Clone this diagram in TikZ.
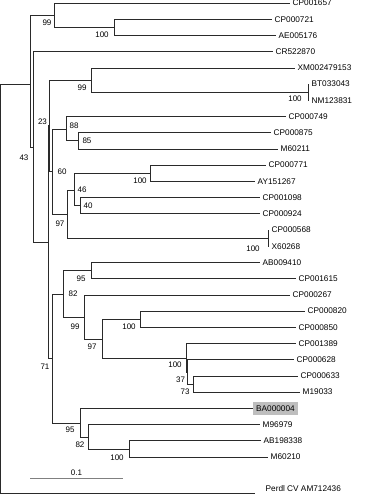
\documentclass[tikz,border=0pt]{standalone}
\usepackage{fontspec}
\setmainfont{Liberation Sans}
\usepackage{tikz}
\usetikzlibrary{calc}
\definecolor{branch}{HTML}{2A2A2A}
\definecolor{hilite}{HTML}{BEBEBE}
\definecolor{barc}{HTML}{808080}
\tikzset{
  br/.style={draw=branch, line width=0.7pt},
  leaf/.style={anchor=west, inner sep=0pt, xshift=2.5pt, font=\fontsize{8.25}{9}\selectfont},
  hl/.style={anchor=west, fill=hilite, inner xsep=3pt, inner ysep=0pt, minimum height=12.5pt, font=\fontsize{8.25}{9}\selectfont},
  boot/.style={inner sep=0pt, font=\fontsize{8}{9}\selectfont},
  scalebar/.style={draw=barc, line width=0.8pt},
}
\begin{document}
\begin{tikzpicture}[x=1pt,y=-1pt]
  \useasboundingbox (0,0) rectangle (366,497);

  \coordinate (root) at (0.6,288);
  \coordinate (nA) at (30,84);
  \coordinate (n99a) at (54,15);
  \coordinate (n100a) at (114,27.3);
  \coordinate (n43) at (33,147);
  \coordinate (nB) at (48,242);
  \coordinate (n23) at (49.5,125);
  \coordinate (n99b) at (91,80);
  \coordinate (n100b) at (308,92.2);
  \coordinate (n60) at (52,171);
  \coordinate (n88) at (66,129);
  \coordinate (n85) at (78,140.8);
  \coordinate (n97a) at (67,214.5);
  \coordinate (n46) at (74,190);
  \coordinate (n100c) at (150,173.2);
  \coordinate (n40) at (80,205.7);
  \coordinate (n100d) at (268,238.1);
  \coordinate (n71) at (52,358.5);
  \coordinate (n82a) at (63,294);
  \coordinate (n95a) at (91,270.5);
  \coordinate (n99c) at (84,317);
  \coordinate (n97b) at (102,339);
  \coordinate (n100e) at (140,319.2);
  \coordinate (n100f) at (186,358);
  \coordinate (n37) at (187.5,372.7);
  \coordinate (n73) at (193,384);
  \coordinate (n95b) at (80,423);
  \coordinate (n82b) at (88,437);
  \coordinate (n100g) at (129,449);

  \coordinate (tCP001657) at (290,3);
  \coordinate (tCP000721) at (272,19.2);
  \coordinate (tAE005176) at (276,35.4);
  \coordinate (tCR522870) at (273,51.6);
  \coordinate (tXM002479153) at (295,67.9);
  \coordinate (tBT033043) at (309,84.1);
  \coordinate (tNM123831) at (309,100.3);
  \coordinate (tCP000749) at (286,116.5);
  \coordinate (tCP000875) at (271,132.7);
  \coordinate (tM60211) at (278,148.9);
  \coordinate (tCP000771) at (266,165.1);
  \coordinate (tAY151267) at (255,181.4);
  \coordinate (tCP001098) at (260,197.6);
  \coordinate (tCP000924) at (260,213.8);
  \coordinate (tCP000568) at (269,230);
  \coordinate (tX60268) at (269,246.2);
  \coordinate (tAB009410) at (260,262.4);
  \coordinate (tCP001615) at (296,278.6);
  \coordinate (tCP000267) at (290,294.9);
  \coordinate (tCP000820) at (305,311.1);
  \coordinate (tCP000850) at (296,327.3);
  \coordinate (tCP001389) at (296,343.5);
  \coordinate (tCP000628) at (294,359.7);
  \coordinate (tCP000633) at (298,375.9);
  \coordinate (tM19033) at (300,392.1);
  \coordinate (tBA000004) at (253,408.4);
  \coordinate (tM96979) at (260,424.6);
  \coordinate (tAB198338) at (261,440.8);
  \coordinate (tM60210) at (268,457);
  \coordinate (tAM712436) at (255,493);

  \draw[br] (root) |- (nA);
  \draw[br] (root) |- (tAM712436);
  \draw[br] (nA) |- (n99a);
  \draw[br] (nA) |- (n43);
  \draw[br] (n99a) |- (tCP001657);
  \draw[br] (n99a) |- (n100a);
  \draw[br] (n100a) |- (tCP000721);
  \draw[br] (n100a) |- (tAE005176);
  \draw[br] (n43) |- (tCR522870);
  \draw[br] (n43) |- (nB);
  \draw[br] (nB) |- (n23);
  \draw[br] (nB) |- (n71);
  \draw[br] (n23) |- (n99b);
  \draw[br] (n23) |- (n60);
  \draw[br] (n99b) |- (tXM002479153);
  \draw[br] (n99b) |- (n100b);
  \draw[br] (n100b) |- (tBT033043);
  \draw[br] (n100b) |- (tNM123831);
  \draw[br] (n60) |- (n88);
  \draw[br] (n60) |- (n97a);
  \draw[br] (n88) |- (tCP000749);
  \draw[br] (n88) |- (n85);
  \draw[br] (n85) |- (tCP000875);
  \draw[br] (n85) |- (tM60211);
  \draw[br] (n97a) |- (n46);
  \draw[br] (n97a) |- (n100d);
  \draw[br] (n46) |- (n100c);
  \draw[br] (n46) |- (n40);
  \draw[br] (n100c) |- (tCP000771);
  \draw[br] (n100c) |- (tAY151267);
  \draw[br] (n40) |- (tCP001098);
  \draw[br] (n40) |- (tCP000924);
  \draw[br] (n100d) |- (tCP000568);
  \draw[br] (n100d) |- (tX60268);
  \draw[br] (n71) |- (n82a);
  \draw[br] (n71) |- (n95b);
  \draw[br] (n82a) |- (n95a);
  \draw[br] (n82a) |- (n99c);
  \draw[br] (n95a) |- (tAB009410);
  \draw[br] (n95a) |- (tCP001615);
  \draw[br] (n99c) |- (tCP000267);
  \draw[br] (n99c) |- (n97b);
  \draw[br] (n97b) |- (n100e);
  \draw[br] (n97b) |- (n100f);
  \draw[br] (n100e) |- (tCP000820);
  \draw[br] (n100e) |- (tCP000850);
  \draw[br] (n100f) |- (tCP001389);
  \draw[br] (n100f) |- (n37);
  \draw[br] (n37) |- (tCP000628);
  \draw[br] (n37) |- (n73);
  \draw[br] (n73) |- (tCP000633);
  \draw[br] (n73) |- (tM19033);
  \draw[br] (n95b) |- (tBA000004);
  \draw[br] (n95b) |- (n82b);
  \draw[br] (n82b) |- (tM96979);
  \draw[br] (n82b) |- (n100g);
  \draw[br] (n100g) |- (tAB198338);
  \draw[br] (n100g) |- (tM60210);

  \node[boot] (b99a) at ($(n99a)+(-7,8)$) {99};
  \node[boot] (b100a) at ($(n100a)+(-12,7.5)$) {100};
  \node[boot] (b43) at ($(n43)+(-9,11)$) {43};
  \node[boot] (b23) at ($(n23)+(-7,-3)$) {23};
  \node[boot] (b99b) at ($(n99b)+(-9,8)$) {99};
  \node[boot] (b100b) at ($(n100b)+(-13,7)$) {100};
  \node[boot] (b60) at ($(n60)+(10,1)$) {60};
  \node[boot] (b88) at ($(n88)+(8,-3)$) {88};
  \node[boot] (b85) at ($(n85)+(9,0)$) {85};
  \node[boot] (b97a) at ($(n97a)+(-7,9.5)$) {97};
  \node[boot] (b46) at ($(n46)+(8,0)$) {46};
  \node[boot] (b100c) at ($(n100c)+(-10,8)$) {100};
  \node[boot] (b40) at ($(n40)+(8,0)$) {40};
  \node[boot] (b100d) at ($(n100d)+(-15,10.5)$) {100};
  \node[boot] (b71) at ($(n71)+(-7,8)$) {71};
  \node[boot] (b82a) at ($(n82a)+(10,0)$) {82};
  \node[boot] (b95a) at ($(n95a)+(-10,8)$) {95};
  \node[boot] (b99c) at ($(n99c)+(-9,10)$) {99};
  \node[boot] (b97b) at ($(n97b)+(-10,8)$) {97};
  \node[boot] (b100e) at ($(n100e)+(-11,7.5)$) {100};
  \node[boot] (b100f) at ($(n100f)+(-11,7)$) {100};
  \node[boot] (b37) at ($(n37)+(-7,7.5)$) {37};
  \node[boot] (b73) at ($(n73)+(-8,7.5)$) {73};
  \node[boot] (b95b) at ($(n95b)+(-10,7)$) {95};
  \node[boot] (b82b) at ($(n82b)+(-8,8)$) {82};
  \node[boot] (b100g) at ($(n100g)+(-12,8.5)$) {100};

  \node[leaf] (CP001657) at (tCP001657) {CP001657};
  \node[leaf] (CP000721) at (tCP000721) {CP000721};
  \node[leaf] (AE005176) at (tAE005176) {AE005176};
  \node[leaf] (CR522870) at (tCR522870) {CR522870};
  \node[leaf] (XM002479153) at (tXM002479153) {XM002479153};
  \node[leaf] (BT033043) at (tBT033043) {BT033043};
  \node[leaf] (NM123831) at (tNM123831) {NM123831};
  \node[leaf] (CP000749) at (tCP000749) {CP000749};
  \node[leaf] (CP000875) at (tCP000875) {CP000875};
  \node[leaf] (M60211) at (tM60211) {M60211};
  \node[leaf] (CP000771) at (tCP000771) {CP000771};
  \node[leaf] (AY151267) at (tAY151267) {AY151267};
  \node[leaf] (CP001098) at (tCP001098) {CP001098};
  \node[leaf] (CP000924) at (tCP000924) {CP000924};
  \node[leaf] (CP000568) at (tCP000568) {CP000568};
  \node[leaf] (X60268) at (tX60268) {X60268};
  \node[leaf] (AB009410) at (tAB009410) {AB009410};
  \node[leaf] (CP001615) at (tCP001615) {CP001615};
  \node[leaf] (CP000267) at (tCP000267) {CP000267};
  \node[leaf] (CP000820) at (tCP000820) {CP000820};
  \node[leaf] (CP000850) at (tCP000850) {CP000850};
  \node[leaf] (CP001389) at (tCP001389) {CP001389};
  \node[leaf] (CP000628) at (tCP000628) {CP000628};
  \node[leaf] (CP000633) at (tCP000633) {CP000633};
  \node[leaf] (M19033) at (tM19033) {M19033};
  \node[hl] (BA000004) at (tBA000004) {BA000004};
  \node[leaf] (M96979) at (tM96979) {M96979};
  \node[leaf] (AB198338) at (tAB198338) {AB198338};
  \node[leaf] (M60210) at (tM60210) {M60210};
  \node[leaf, xshift=8pt, yshift=4pt] (AM712436) at (tAM712436) {Perdl CV AM712436};

  \coordinate (sbL) at (30,478);
  \coordinate (sbR) at (123,478);
  \draw[scalebar] (sbL) -- (sbR) node[boot, midway, above=2.5pt] (sbT) {0.1};
\end{tikzpicture}
\end{document}
